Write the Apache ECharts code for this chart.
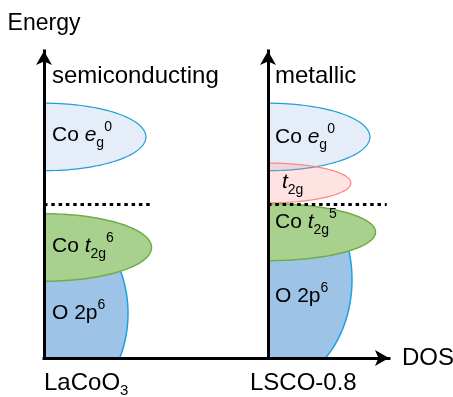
<!DOCTYPE html>
<html>
<head>
<meta charset="utf-8">
<script src="https://cdn.jsdelivr.net/npm/echarts@6/dist/echarts.min.js"></script>
<style>
  html, body { margin: 0; padding: 0; background: #fff; }
  #chart { width: 453px; height: 397px; }
</style>
</head>
<body>
<div id="chart"></div>
<script>
// Schematic density of states: energy upward, DOS to the right, one panel per compound.
const materials = ['LaCoO3', 'LSCO-0.8'];
const regimes = ['semiconducting', 'metallic'];
const fermiLevel = 5.0;
const fermiLineEnd = [4.8, 5.3];
const dosMax = [10, 5.4];
const energyMax = 10;

// [band, centre energy, half width, peak DOS, upper cut energy (hidden under the next band)]
const lacooBands = [
  ['O2p', 1.45, 3.35, 3.75, 3.6],
  ['t2g', 3.6, 1.1, 4.8, null],
  ['eg', 7.2, 1.1, 4.55, null]
];
const lscoBands = [
  ['O2p', 2.55, 3.5, 3.75, 4.1],
  ['t2g', 4.1, 0.93, 4.8, null],
  ['eg', 7.2, 1.1, 4.55, null],
  ['t2gHole', 5.7, 0.65, 3.7, null]
];

// [label energy, rich text]
const lacooLabels = [
  [7.25, '{n|Co }{i|e}{sub|g}{sup|0}'],
  [3.63, '{n|Co }{i|t}{sub|2g}{sup|6}'],
  [1.45, '{n|O 2p}{sup|6}']
];
const lscoLabels = [
  [7.2, '{n|Co }{i|e}{sub|g}{sup|0}'],
  [5.73, '{i|t}{sub|2g}'],
  [4.41, '{n|Co }{i|t}{sub|2g}{sup|5}'],
  [2.0, '{n|O 2p}{sup|6}']
];
const regimeEnergy = 9.18;

const FONT = '"Liberation Sans", Arial, Helvetica, sans-serif';

const bandStyle = {
  O2p:     { fill: '#9dc3e6', stroke: '#1ba1e2', lineWidth: 1.5 },
  t2g:     { fill: '#a9d18e', stroke: '#70ad47', lineWidth: 1.5 },
  eg:      { fill: '#e5eef8', stroke: '#1f9fd8', lineWidth: 1.2 },
  t2gHole: { fill: 'rgba(255,150,150,0.28)', stroke: '#ff8585', lineWidth: 1.2 }
};

const rich = {
  n:   { fontSize: 21, lineHeight: 30, fontFamily: FONT, fill: '#000' },
  i:   { fontSize: 21, lineHeight: 30, fontFamily: FONT, fontStyle: 'italic', fill: '#000' },
  sub: { fontSize: 14, lineHeight: 7, verticalAlign: 'bottom', fontFamily: FONT, fill: '#000' },
  sup: { fontSize: 14, lineHeight: 28, verticalAlign: 'top', fontFamily: FONT, fill: '#000' },
  m:   { fontSize: 24, lineHeight: 30, fontFamily: FONT, fill: '#000' },
  ms:  { fontSize: 15, lineHeight: 8, verticalAlign: 'bottom', fontFamily: FONT, fill: '#000' }
};
const materialText = ['{m|LaCoO}{ms|3}', '{m|LSCO-0.8}'];
const materialShift = [0, -18];
const labelShift = [[8, 8, 8], [7, 14, 7, 7]];

const pxPerDos = 22.4;
const gridLeft = [44, 268];
const gridTop = 51, gridBottom = 39;

function bandSeries(bands, g) {
  return {
    type: 'custom',
    xAxisIndex: g, yAxisIndex: g,
    z: 2,
    data: bands.map(b => [b[1], b[2], b[3]]),
    renderItem: function (params, api) {
      const c = api.value(0), h = api.value(1), w = api.value(2);
      const band = bands[params.dataIndex];
      const st = bandStyle[band[0]];
      // right half of the band ellipse, cut at zero energy and optionally from above
      const lo = Math.max(-1, -c / h);
      const hi = band[4] == null ? 1 : Math.min(1, (band[4] - c) / h);
      const t0 = Math.asin(lo), t1 = Math.asin(hi);
      const pts = [];
      if (lo > -1) pts.push(api.coord([0, 0]));
      const N = 80;
      for (let i = 0; i <= N; i++) {
        const t = t0 + (t1 - t0) * i / N;
        pts.push(api.coord([w * Math.cos(t), c + h * Math.sin(t)]));
      }
      if (hi < 1) pts.push(api.coord([0, band[4]]));
      return {
        type: 'polygon',
        shape: { points: pts },
        style: { fill: st.fill, stroke: st.stroke, lineWidth: st.lineWidth }
      };
    }
  };
}

function fermiSeries(g) {
  return {
    type: 'line',
    xAxisIndex: g, yAxisIndex: g,
    z: 4,
    symbol: 'none',
    silent: true,
    data: [[0, fermiLevel], [fermiLineEnd[g], fermiLevel]],
    lineStyle: { color: '#000', width: 3, type: [3.5, 3.8] }
  };
}

function labelSeries(labels, g) {
  return {
    type: 'custom',
    xAxisIndex: g, yAxisIndex: g,
    z: 6,
    silent: true,
    data: labels.map(l => [0, l[0]]),
    renderItem: function (params, api) {
      const p = api.coord([api.value(0), api.value(1)]);
      const children = [{
        type: 'text',
        x: p[0] + labelShift[g][params.dataIndex], y: p[1],
        style: { text: labels[params.dataIndex][1], rich: rich, verticalAlign: 'middle', align: 'left' }
      }];
      if (params.dataIndex === 0) {
        const h = api.coord([0, regimeEnergy]);
        children.push({
          type: 'text', x: h[0] + labelShift[g][0], y: h[1],
          style: { text: regimes[g], fontSize: 24, fontFamily: FONT, fill: '#000', verticalAlign: 'middle', align: 'left' }
        });
        const o = api.coord([0, 0]);
        children.push({
          type: 'text', x: o[0] + materialShift[g], y: o[1] + 25,
          style: { text: materialText[g], rich: rich, verticalAlign: 'middle', align: 'left' }
        });
      }
      return { type: 'group', children: children };
    }
  };
}

const axisLine = (arrow) => ({
  show: true,
  symbol: arrow ? ['none', 'arrow'] : 'none',
  symbolSize: [12, 14],
  lineStyle: { color: '#000', width: 3, cap: 'square' }
});

const chart = echarts.init(document.getElementById('chart'), null, { renderer: 'canvas' });
chart.setOption({
  animation: false,
  backgroundColor: '#fff',
  grid: [0, 1].map(g => ({
    left: gridLeft[g], top: gridTop, bottom: gridBottom,
    width: dosMax[g] * pxPerDos,
    containLabel: false, outerBoundsMode: 'none', show: false
  })),
  xAxis: [0, 1].map(g => ({
    type: 'value', gridIndex: g, min: 0, max: dosMax[g], z: 10,
    axisLine: axisLine(g === 1),
    axisTick: { show: false }, axisLabel: { show: false }, splitLine: { show: false },
    name: g === 1 ? 'DOS' : '', nameLocation: 'end', nameGap: 13, nameMoveOverlap: false,
    nameTextStyle: { fontSize: 24, fontFamily: FONT, color: '#000', verticalAlign: 'middle' }
  })),
  yAxis: [0, 1].map(g => ({
    type: 'value', gridIndex: g, min: 0, max: energyMax, z: 10,
    axisLine: axisLine(true),
    axisTick: { show: false }, axisLabel: { show: false }, splitLine: { show: false },
    name: g === 0 ? 'Energy' : '', nameLocation: 'end', nameGap: 16, nameMoveOverlap: false,
    nameTextStyle: { fontSize: 23, fontFamily: FONT, color: '#000', align: 'center' }
  })),
  series: [
    bandSeries(lacooBands, 0), bandSeries(lscoBands, 1),
    fermiSeries(0), fermiSeries(1),
    labelSeries(lacooLabels, 0), labelSeries(lscoLabels, 1)
  ]
});
</script>
</body>
</html>
